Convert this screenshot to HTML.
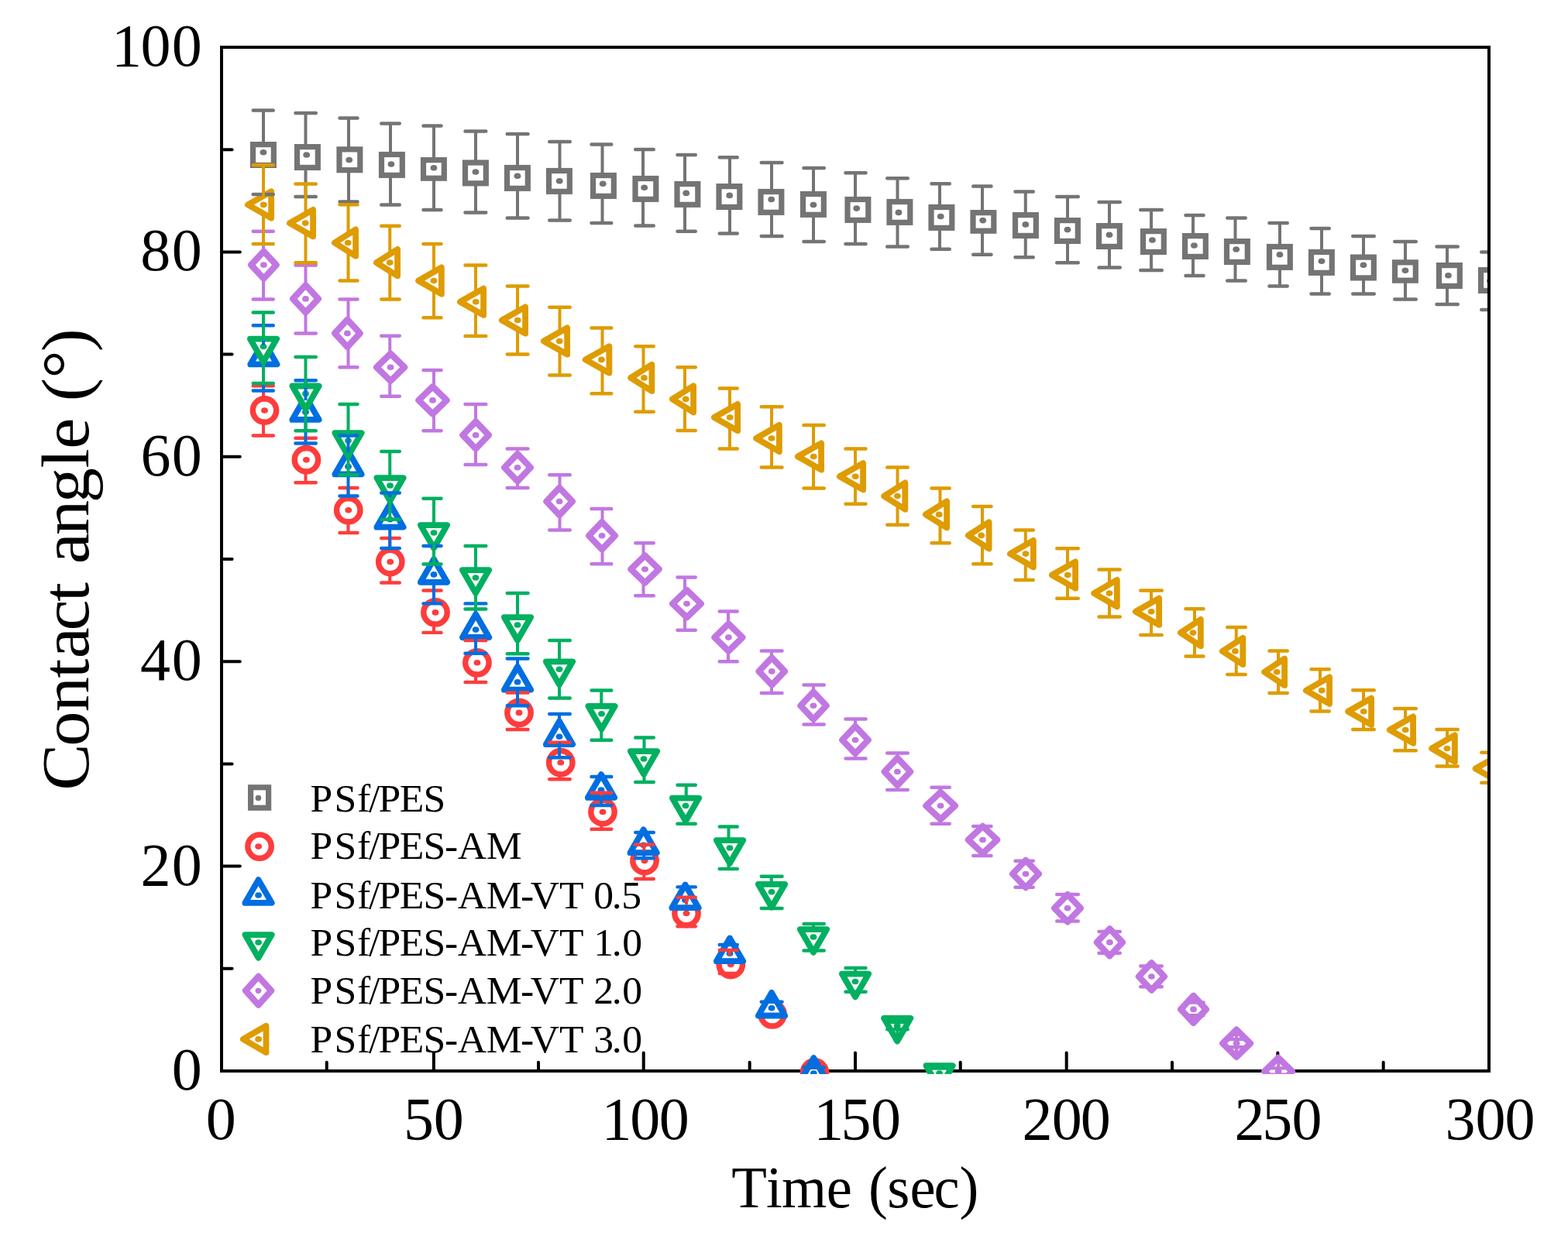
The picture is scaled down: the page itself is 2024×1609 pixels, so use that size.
<!DOCTYPE html>
<html lang="en">
<head>
<meta charset="utf-8">
<title>Contact angle vs time</title>
<style>
html,body{margin:0;padding:0;background:#fff;}
body{width:2024px;height:1609px;overflow:hidden;}
svg{display:block;}
text{font-family:"Liberation Serif","Times New Roman",Times,serif;fill:#000;white-space:pre;}
</style>
</head>
<body>
<svg width="2024" height="1609" viewBox="0 0 2024 1609">
<rect width="2024" height="1609" fill="#fff"/>
<defs><clipPath id="clip"><rect x="284" y="59" width="1636" height="1328"/></clipPath></defs>
<g id="axes" stroke="#000" stroke-width="4" fill="none">
<rect x="286.0" y="61.0" width="1636.0" height="1322.0"/>
<path d="M421.73 1383.0V1371.8M559.87 1383.0V1359.4M695 1383.0V1371.8M830.73 1383.0V1359.4M967.67 1383.0V1371.8M1104 1383.0V1359.4M1239.73 1383.0V1371.8M1376.67 1383.0V1359.4M1513 1383.0V1371.8M1649.33 1383.0V1359.4M1785.67 1383.0V1371.8M286.0 1250.8H299.6M286.0 1118.6H309.8M286.0 986.4H299.6M286.0 854.2H309.8M286.0 722H299.6M286.0 589.8H309.8M286.0 457.6H299.6M286.0 325.4H309.8M286.0 193.2H299.6" stroke-linecap="round"/>
</g>
<g id="data" clip-path="url(#clip)">
<g id="m-gray" fill="#fff" stroke="#747474" stroke-width="7.2" stroke-linejoin="miter"><rect x="326.5" y="186.6" width="26.8" height="26.8"/><ellipse cx="339.95" cy="196.75" rx="4.4" ry="3.8" fill="#747474" stroke="none"/><rect x="383.5" y="189.6" width="26.8" height="26.8"/><ellipse cx="395.7" cy="200" rx="4.4" ry="3.8" fill="#747474" stroke="none"/><rect x="438" y="192.85" width="26.8" height="26.8"/><ellipse cx="450.7" cy="206.5" rx="4.4" ry="3.8" fill="#747474" stroke="none"/><rect x="492.5" y="199.5" width="26.8" height="26.8"/><ellipse cx="504.95" cy="212" rx="4.4" ry="3.8" fill="#747474" stroke="none"/><rect x="546.5" y="206.62" width="26.8" height="23.55"/><ellipse cx="559.95" cy="216.75" rx="4.4" ry="3.8" fill="#747474" stroke="none"/><rect x="600.5" y="210" width="26.8" height="26.8"/><ellipse cx="613.95" cy="222" rx="4.4" ry="3.8" fill="#747474" stroke="none"/><rect x="654.5" y="216.5" width="26.8" height="26.8"/><ellipse cx="667.95" cy="227.25" rx="4.4" ry="3.8" fill="#747474" stroke="none"/><rect x="708.5" y="220.5" width="26.8" height="26.8"/><ellipse cx="722.2" cy="233.75" rx="4.4" ry="3.8" fill="#747474" stroke="none"/><rect x="765.5" y="226.5" width="26.8" height="26.8"/><ellipse cx="778.2" cy="237.25" rx="4.4" ry="3.8" fill="#747474" stroke="none"/><rect x="820" y="230.5" width="26.8" height="26.8"/><ellipse cx="831.7" cy="242.25" rx="4.4" ry="3.8" fill="#747474" stroke="none"/><rect x="874" y="237.5" width="26.8" height="26.8"/><ellipse cx="885.7" cy="249.38" rx="4.4" ry="3.8" fill="#747474" stroke="none"/><rect x="928" y="240.6" width="26.8" height="26.8"/><ellipse cx="941.7" cy="252.38" rx="4.4" ry="3.8" fill="#747474" stroke="none"/><rect x="982" y="247.5" width="26.8" height="26.8"/><ellipse cx="995.7" cy="257.5" rx="4.4" ry="3.8" fill="#747474" stroke="none"/><rect x="1036.5" y="250.5" width="26.8" height="26.8"/><ellipse cx="1049.95" cy="264.5" rx="4.4" ry="3.8" fill="#747474" stroke="none"/><rect x="1094" y="257.5" width="26.8" height="26.8"/><ellipse cx="1105.7" cy="269.12" rx="4.4" ry="3.8" fill="#747474" stroke="none"/><rect x="1148" y="260.5" width="26.8" height="26.8"/><ellipse cx="1159.95" cy="274.38" rx="4.4" ry="3.8" fill="#747474" stroke="none"/><rect x="1202" y="267.5" width="26.8" height="26.8"/><ellipse cx="1214.2" cy="279.5" rx="4.4" ry="3.8" fill="#747474" stroke="none"/><rect x="1256" y="274.62" width="26.8" height="23.55"/><ellipse cx="1268.7" cy="284.62" rx="4.4" ry="3.8" fill="#747474" stroke="none"/><rect x="1310.5" y="277.6" width="26.8" height="26.8"/><ellipse cx="1323.83" cy="289.88" rx="4.4" ry="3.8" fill="#747474" stroke="none"/><rect x="1364.5" y="284.6" width="26.8" height="26.8"/><ellipse cx="1377.95" cy="296.62" rx="4.4" ry="3.8" fill="#747474" stroke="none"/><rect x="1418.5" y="291.6" width="26.8" height="26.8"/><ellipse cx="1431.95" cy="303.25" rx="4.4" ry="3.8" fill="#747474" stroke="none"/><rect x="1475.5" y="298.6" width="26.8" height="26.8"/><ellipse cx="1487.45" cy="310" rx="4.4" ry="3.8" fill="#747474" stroke="none"/><rect x="1529.5" y="304.6" width="26.8" height="26.8"/><ellipse cx="1541.45" cy="317" rx="4.4" ry="3.8" fill="#747474" stroke="none"/><rect x="1583.5" y="311.6" width="26.8" height="26.8"/><ellipse cx="1595.7" cy="322" rx="4.4" ry="3.8" fill="#747474" stroke="none"/><rect x="1638.5" y="318.5" width="26.8" height="26.8"/><ellipse cx="1651.95" cy="328.75" rx="4.4" ry="3.8" fill="#747474" stroke="none"/><rect x="1692.5" y="325.5" width="26.8" height="26.8"/><ellipse cx="1705.95" cy="337.25" rx="4.4" ry="3.8" fill="#747474" stroke="none"/><rect x="1746.5" y="332.1" width="26.8" height="26.8"/><ellipse cx="1759.95" cy="342.25" rx="4.4" ry="3.8" fill="#747474" stroke="none"/><rect x="1800.5" y="338.85" width="26.8" height="23.3"/><ellipse cx="1813.95" cy="349.25" rx="4.4" ry="3.8" fill="#747474" stroke="none"/><rect x="1857.5" y="342.6" width="26.8" height="26.8"/><ellipse cx="1869.45" cy="355.75" rx="4.4" ry="3.8" fill="#747474" stroke="none"/><rect x="1911.6" y="348.6" width="26.8" height="26.8"/><ellipse cx="1923.5" cy="362.75" rx="4.4" ry="3.8" fill="#747474" stroke="none"/></g>
<g id="m-red" fill="#fff" stroke="#FF3C3C" stroke-width="7.4" stroke-linejoin="round"><circle cx="341.5" cy="530" r="15.2"/><ellipse cx="341.5" cy="530" rx="4.4" ry="3.8" fill="#FF3C3C" stroke="none"/><circle cx="395.4" cy="593.75" r="15.2"/><ellipse cx="395.4" cy="593.75" rx="4.4" ry="3.8" fill="#FF3C3C" stroke="none"/><circle cx="449.75" cy="658.75" r="15.2"/><ellipse cx="449.75" cy="658.75" rx="4.4" ry="3.8" fill="#FF3C3C" stroke="none"/><circle cx="503.75" cy="725.5" r="15.2"/><ellipse cx="503.75" cy="725.5" rx="4.4" ry="3.8" fill="#FF3C3C" stroke="none"/><circle cx="562" cy="790.9" r="15.2"/><ellipse cx="562" cy="790.9" rx="4.4" ry="3.8" fill="#FF3C3C" stroke="none"/><circle cx="615.9" cy="855.8" r="15.2"/><ellipse cx="615.9" cy="855.8" rx="4.4" ry="3.8" fill="#FF3C3C" stroke="none"/><circle cx="670" cy="920.4" r="15.2"/><ellipse cx="670" cy="920.4" rx="4.4" ry="3.8" fill="#FF3C3C" stroke="none"/><circle cx="723.75" cy="984.75" r="15.2"/><ellipse cx="723.75" cy="984.75" rx="4.4" ry="3.8" fill="#FF3C3C" stroke="none"/><circle cx="778" cy="1048.5" r="15.2"/><ellipse cx="778" cy="1048.5" rx="4.4" ry="3.8" fill="#FF3C3C" stroke="none"/><circle cx="832" cy="1111.5" r="15.2"/><ellipse cx="832" cy="1111.5" rx="4.4" ry="3.8" fill="#FF3C3C" stroke="none"/><circle cx="886" cy="1179.5" r="15.2"/><ellipse cx="886" cy="1179.5" rx="4.4" ry="3.8" fill="#FF3C3C" stroke="none"/><circle cx="943.25" cy="1245.5" r="15.2"/><ellipse cx="943.25" cy="1245.5" rx="4.4" ry="3.8" fill="#FF3C3C" stroke="none"/><circle cx="997" cy="1309.85" r="15.2"/><ellipse cx="997" cy="1309.85" rx="4.4" ry="3.8" fill="#FF3C3C" stroke="none"/><circle cx="1051.5" cy="1385" r="15.2"/><ellipse cx="1051.5" cy="1385" rx="4.4" ry="3.8" fill="#FF3C3C" stroke="none"/></g>
<g id="m-blue" fill="#fff" stroke="#006EE1" stroke-width="7.8" stroke-linejoin="round"><polygon points="340.4,440.7 357.55,470.4 323.25,470.4"/><ellipse cx="340.4" cy="460.5" rx="4.4" ry="3.8" fill="#006EE1" stroke="none"/><polygon points="394.5,512.2 411.65,541.9 377.35,541.9"/><ellipse cx="394.5" cy="532" rx="4.4" ry="3.8" fill="#006EE1" stroke="none"/><polygon points="449.5,582.7 466.65,612.4 432.35,612.4"/><ellipse cx="449.5" cy="602.5" rx="4.4" ry="3.8" fill="#006EE1" stroke="none"/><polygon points="503.5,650.95 520.65,680.65 486.35,680.65"/><ellipse cx="503.5" cy="670.75" rx="4.4" ry="3.8" fill="#006EE1" stroke="none"/><polygon points="560,722.1 577.15,751.8 542.85,751.8"/><ellipse cx="560" cy="741.9" rx="4.4" ry="3.8" fill="#006EE1" stroke="none"/><polygon points="614.1,793.3 631.25,823 596.95,823"/><ellipse cx="614.1" cy="813.1" rx="4.4" ry="3.8" fill="#006EE1" stroke="none"/><polygon points="668,860.95 685.15,890.65 650.85,890.65"/><ellipse cx="668" cy="880.75" rx="4.4" ry="3.8" fill="#006EE1" stroke="none"/><polygon points="722,931.45 739.15,961.15 704.85,961.15"/><ellipse cx="722" cy="951.25" rx="4.4" ry="3.8" fill="#006EE1" stroke="none"/><polygon points="776,1000.2 793.15,1029.9 758.85,1029.9"/><ellipse cx="776" cy="1020" rx="4.4" ry="3.8" fill="#006EE1" stroke="none"/><polygon points="830.6,1071.45 847.75,1101.15 813.45,1101.15"/><ellipse cx="830.6" cy="1091.25" rx="4.4" ry="3.8" fill="#006EE1" stroke="none"/><polygon points="884.5,1142.5 901.65,1172.2 867.35,1172.2"/><ellipse cx="884.5" cy="1162.3" rx="4.4" ry="3.8" fill="#006EE1" stroke="none"/><polygon points="942,1211.5 959.15,1241.2 924.85,1241.2"/><ellipse cx="942" cy="1231.3" rx="4.4" ry="3.8" fill="#006EE1" stroke="none"/><polygon points="996,1281.9 1013.15,1311.6 978.85,1311.6"/><ellipse cx="996" cy="1301.7" rx="4.4" ry="3.8" fill="#006EE1" stroke="none"/><polygon points="1050.3,1366.2 1067.45,1395.9 1033.15,1395.9"/><ellipse cx="1050.3" cy="1386" rx="4.4" ry="3.8" fill="#006EE1" stroke="none"/></g>
<g id="m-green" fill="#fff" stroke="#00B060" stroke-width="7.8" stroke-linejoin="round"><polygon points="340,467.3 357.15,437.6 322.85,437.6"/><ellipse cx="340" cy="447.5" rx="4.4" ry="3.8" fill="#00B060" stroke="none"/><polygon points="394.5,528.2 411.65,498.5 377.35,498.5"/><ellipse cx="394.5" cy="508.4" rx="4.4" ry="3.8" fill="#00B060" stroke="none"/><polygon points="449.5,588.8 466.65,559.1 432.35,559.1"/><ellipse cx="449.5" cy="569" rx="4.4" ry="3.8" fill="#00B060" stroke="none"/><polygon points="503.5,646.8 520.65,617.1 486.35,617.1"/><ellipse cx="503.5" cy="627" rx="4.4" ry="3.8" fill="#00B060" stroke="none"/><polygon points="560,707.8 577.15,678.1 542.85,678.1"/><ellipse cx="560" cy="688" rx="4.4" ry="3.8" fill="#00B060" stroke="none"/><polygon points="614,765.8 631.15,736.1 596.85,736.1"/><ellipse cx="614" cy="746" rx="4.4" ry="3.8" fill="#00B060" stroke="none"/><polygon points="668,826.8 685.15,797.1 650.85,797.1"/><ellipse cx="668" cy="807" rx="4.4" ry="3.8" fill="#00B060" stroke="none"/><polygon points="722,884.1 739.15,854.4 704.85,854.4"/><ellipse cx="722" cy="864.3" rx="4.4" ry="3.8" fill="#00B060" stroke="none"/><polygon points="776.5,941.6 793.65,911.9 759.35,911.9"/><ellipse cx="776.5" cy="921.8" rx="4.4" ry="3.8" fill="#00B060" stroke="none"/><polygon points="831,999.8 848.15,970.1 813.85,970.1"/><ellipse cx="831" cy="980" rx="4.4" ry="3.8" fill="#00B060" stroke="none"/><polygon points="885,1060.3 902.15,1030.6 867.85,1030.6"/><ellipse cx="885" cy="1040.5" rx="4.4" ry="3.8" fill="#00B060" stroke="none"/><polygon points="942,1114.8 959.15,1085.1 924.85,1085.1"/><ellipse cx="942" cy="1095" rx="4.4" ry="3.8" fill="#00B060" stroke="none"/><polygon points="996,1171.55 1013.15,1141.85 978.85,1141.85"/><ellipse cx="996" cy="1151.75" rx="4.4" ry="3.8" fill="#00B060" stroke="none"/><polygon points="1050,1229.8 1067.15,1200.1 1032.85,1200.1"/><ellipse cx="1050" cy="1210" rx="4.4" ry="3.8" fill="#00B060" stroke="none"/><polygon points="1104,1287.3 1121.15,1257.6 1086.85,1257.6"/><ellipse cx="1104" cy="1267.5" rx="4.4" ry="3.8" fill="#00B060" stroke="none"/><polygon points="1158.2,1344.6 1175.35,1314.9 1141.05,1314.9"/><ellipse cx="1158.2" cy="1324.8" rx="4.4" ry="3.8" fill="#00B060" stroke="none"/><polygon points="1212.6,1405.8 1229.75,1376.1 1195.45,1376.1"/><ellipse cx="1212.6" cy="1386" rx="4.4" ry="3.8" fill="#00B060" stroke="none"/></g>
<g id="m-purple" fill="#fff" stroke="#C177E1" stroke-width="8.2" stroke-linejoin="round"><polygon points="340.4,324.5 356.67,342.1 340.4,359.7 324.12,342.1"/><ellipse cx="340.4" cy="342.1" rx="4.4" ry="3.8" fill="#C177E1" stroke="none"/><polygon points="394.5,368.3 410.9,385.9 394.5,403.5 378.1,385.9"/><ellipse cx="394.5" cy="385.9" rx="4.4" ry="3.8" fill="#C177E1" stroke="none"/><polygon points="448.4,412.8 464.67,430.4 448.4,448 432.12,430.4"/><ellipse cx="448.4" cy="430.4" rx="4.4" ry="3.8" fill="#C177E1" stroke="none"/><polygon points="504.1,456.7 522.12,474.3 504.1,491.9 486.08,474.3"/><ellipse cx="504.1" cy="474.3" rx="4.4" ry="3.8" fill="#C177E1" stroke="none"/><polygon points="558.5,499.3 576.65,516.9 558.5,534.5 540.35,516.9"/><ellipse cx="558.5" cy="516.9" rx="4.4" ry="3.8" fill="#C177E1" stroke="none"/><polygon points="614.1,544.3 630.88,561.9 614.1,579.5 597.33,561.9"/><ellipse cx="614.1" cy="561.9" rx="4.4" ry="3.8" fill="#C177E1" stroke="none"/><polygon points="668,586.15 684.9,603.75 668,621.35 651.1,603.75"/><ellipse cx="668" cy="603.75" rx="4.4" ry="3.8" fill="#C177E1" stroke="none"/><polygon points="722.1,629.9 738.88,647.5 722.1,665.1 705.33,647.5"/><ellipse cx="722.1" cy="647.5" rx="4.4" ry="3.8" fill="#C177E1" stroke="none"/><polygon points="777,674.15 793.9,691.75 777,709.35 760.1,691.75"/><ellipse cx="777" cy="691.75" rx="4.4" ry="3.8" fill="#C177E1" stroke="none"/><polygon points="832.5,717.4 850.65,735 832.5,752.6 814.35,735"/><ellipse cx="832.5" cy="735" rx="4.4" ry="3.8" fill="#C177E1" stroke="none"/><polygon points="886.5,762 904.9,779.6 886.5,797.2 868.1,779.6"/><ellipse cx="886.5" cy="779.6" rx="4.4" ry="3.8" fill="#C177E1" stroke="none"/><polygon points="940.4,805.5 958.42,823.1 940.4,840.7 922.38,823.1"/><ellipse cx="940.4" cy="823.1" rx="4.4" ry="3.8" fill="#C177E1" stroke="none"/><polygon points="996.25,849.3 1012.9,866.9 996.25,884.5 979.6,866.9"/><ellipse cx="996.25" cy="866.9" rx="4.4" ry="3.8" fill="#C177E1" stroke="none"/><polygon points="1050,893.65 1066.65,911.25 1050,928.85 1033.35,911.25"/><ellipse cx="1050" cy="911.25" rx="4.4" ry="3.8" fill="#C177E1" stroke="none"/><polygon points="1104,937.9 1120.78,955.5 1104,973.1 1087.22,955.5"/><ellipse cx="1104" cy="955.5" rx="4.4" ry="3.8" fill="#C177E1" stroke="none"/><polygon points="1158.4,978.9 1175.18,996.5 1158.4,1014.1 1141.62,996.5"/><ellipse cx="1158.4" cy="996.5" rx="4.4" ry="3.8" fill="#C177E1" stroke="none"/><polygon points="1214.1,1022.9 1232.88,1040.5 1214.1,1058.1 1195.32,1040.5"/><ellipse cx="1214.1" cy="1040.5" rx="4.4" ry="3.8" fill="#C177E1" stroke="none"/><polygon points="1268.5,1066.9 1287.15,1084.5 1268.5,1102.1 1249.85,1084.5"/><ellipse cx="1268.5" cy="1084.5" rx="4.4" ry="3.8" fill="#C177E1" stroke="none"/><polygon points="1324,1110.9 1340.9,1128.5 1324,1146.1 1307.1,1128.5"/><ellipse cx="1324" cy="1128.5" rx="4.4" ry="3.8" fill="#C177E1" stroke="none"/><polygon points="1378,1155.15 1394.9,1172.75 1378,1190.35 1361.1,1172.75"/><ellipse cx="1378" cy="1172.75" rx="4.4" ry="3.8" fill="#C177E1" stroke="none"/><polygon points="1432.4,1199.3 1448.93,1216.9 1432.4,1234.5 1415.88,1216.9"/><ellipse cx="1432.4" cy="1216.9" rx="4.4" ry="3.8" fill="#C177E1" stroke="none"/><polygon points="1486.4,1243.4 1502.93,1261 1486.4,1278.6 1469.88,1261"/><ellipse cx="1486.4" cy="1261" rx="4.4" ry="3.8" fill="#C177E1" stroke="none"/><polygon points="1540.5,1285.8 1556.85,1303.4 1540.5,1321 1524.15,1303.4"/><ellipse cx="1540.5" cy="1303.4" rx="4.4" ry="3.8" fill="#C177E1" stroke="none"/><polygon points="1596.1,1329.7 1614,1347.3 1596.1,1364.9 1578.2,1347.3"/><ellipse cx="1596.1" cy="1347.3" rx="4.4" ry="3.8" fill="#C177E1" stroke="none"/><polygon points="1650.1,1365.9 1667.95,1383.5 1650.1,1401.1 1632.25,1383.5"/><ellipse cx="1650.1" cy="1383.5" rx="4.4" ry="3.8" fill="#C177E1" stroke="none"/></g>
<g id="m-orange" fill="#fff" stroke="#DE9C00" stroke-width="7.8" stroke-linejoin="round"><polygon points="319.95,264.4 350.15,247.25 350.15,281.55"/><ellipse cx="340.25" cy="264.4" rx="4.4" ry="3.8" fill="#DE9C00" stroke="none"/><polygon points="373.9,288.1 404.1,270.95 404.1,305.25"/><ellipse cx="394.2" cy="288.1" rx="4.4" ry="3.8" fill="#DE9C00" stroke="none"/><polygon points="431.9,313.5 459.1,296.35 459.1,330.65"/><ellipse cx="449.2" cy="313.5" rx="4.4" ry="3.8" fill="#DE9C00" stroke="none"/><polygon points="485.9,339.1 513.1,321.95 513.1,356.25"/><ellipse cx="503.2" cy="339.1" rx="4.4" ry="3.8" fill="#DE9C00" stroke="none"/><polygon points="540.15,362.5 569.85,345.35 569.85,379.65"/><ellipse cx="559.95" cy="362.5" rx="4.4" ry="3.8" fill="#DE9C00" stroke="none"/><polygon points="593.9,389.75 624.1,372.6 624.1,406.9"/><ellipse cx="614.2" cy="389.75" rx="4.4" ry="3.8" fill="#DE9C00" stroke="none"/><polygon points="647.9,413.5 678.1,396.35 678.1,430.65"/><ellipse cx="668.2" cy="413.5" rx="4.4" ry="3.8" fill="#DE9C00" stroke="none"/><polygon points="701.9,440.5 732.1,423.35 732.1,457.65"/><ellipse cx="722.2" cy="440.5" rx="4.4" ry="3.8" fill="#DE9C00" stroke="none"/><polygon points="755.65,464.4 786.35,447.25 786.35,481.55"/><ellipse cx="776.45" cy="464.4" rx="4.4" ry="3.8" fill="#DE9C00" stroke="none"/><polygon points="814.15,487.9 841.35,470.75 841.35,505.05"/><ellipse cx="831.45" cy="487.9" rx="4.4" ry="3.8" fill="#DE9C00" stroke="none"/><polygon points="867.9,515.4 895.1,498.25 895.1,532.55"/><ellipse cx="885.2" cy="515.4" rx="4.4" ry="3.8" fill="#DE9C00" stroke="none"/><polygon points="921.9,539 952.1,521.85 952.1,556.15"/><ellipse cx="942.2" cy="539" rx="4.4" ry="3.8" fill="#DE9C00" stroke="none"/><polygon points="976.15,566 1005.85,548.85 1005.85,583.15"/><ellipse cx="995.95" cy="566" rx="4.4" ry="3.8" fill="#DE9C00" stroke="none"/><polygon points="1029.9,589.5 1060.1,572.35 1060.1,606.65"/><ellipse cx="1050.2" cy="589.5" rx="4.4" ry="3.8" fill="#DE9C00" stroke="none"/><polygon points="1083.9,615.25 1114.1,598.1 1114.1,632.4"/><ellipse cx="1104.2" cy="615.25" rx="4.4" ry="3.8" fill="#DE9C00" stroke="none"/><polygon points="1141.15,640.6 1168.35,623.45 1168.35,657.75"/><ellipse cx="1158.45" cy="640.6" rx="4.4" ry="3.8" fill="#DE9C00" stroke="none"/><polygon points="1194.9,664.4 1222.1,647.25 1222.1,681.55"/><ellipse cx="1212.2" cy="664.4" rx="4.4" ry="3.8" fill="#DE9C00" stroke="none"/><polygon points="1249.9,691.4 1276.6,674.25 1276.6,708.55"/><ellipse cx="1266.7" cy="691.4" rx="4.4" ry="3.8" fill="#DE9C00" stroke="none"/><polygon points="1303.9,715.1 1333.85,697.95 1333.85,732.25"/><ellipse cx="1323.95" cy="715.1" rx="4.4" ry="3.8" fill="#DE9C00" stroke="none"/><polygon points="1357.9,742.5 1388.1,725.35 1388.1,759.65"/><ellipse cx="1378.2" cy="742.5" rx="4.4" ry="3.8" fill="#DE9C00" stroke="none"/><polygon points="1412.15,766.1 1441.85,748.95 1441.85,783.25"/><ellipse cx="1431.95" cy="766.1" rx="4.4" ry="3.8" fill="#DE9C00" stroke="none"/><polygon points="1465.9,789.75 1496.1,772.6 1496.1,806.9"/><ellipse cx="1486.2" cy="789.75" rx="4.4" ry="3.8" fill="#DE9C00" stroke="none"/><polygon points="1523.9,817.1 1549.85,799.95 1549.85,834.25"/><ellipse cx="1539.95" cy="817.1" rx="4.4" ry="3.8" fill="#DE9C00" stroke="none"/><polygon points="1577.9,840.9 1604.35,823.75 1604.35,858.05"/><ellipse cx="1594.45" cy="840.9" rx="4.4" ry="3.8" fill="#DE9C00" stroke="none"/><polygon points="1632.15,867.75 1658.1,850.6 1658.1,884.9"/><ellipse cx="1648.2" cy="867.75" rx="4.4" ry="3.8" fill="#DE9C00" stroke="none"/><polygon points="1685.9,891.6 1716.1,874.45 1716.1,908.75"/><ellipse cx="1706.2" cy="891.6" rx="4.4" ry="3.8" fill="#DE9C00" stroke="none"/><polygon points="1740.15,918.75 1770.1,901.6 1770.1,935.9"/><ellipse cx="1760.2" cy="918.75" rx="4.4" ry="3.8" fill="#DE9C00" stroke="none"/><polygon points="1793.9,942.5 1824.1,925.35 1824.1,959.65"/><ellipse cx="1814.2" cy="942.5" rx="4.4" ry="3.8" fill="#DE9C00" stroke="none"/><polygon points="1848.15,966.5 1877.85,949.35 1877.85,983.65"/><ellipse cx="1867.95" cy="966.5" rx="4.4" ry="3.8" fill="#DE9C00" stroke="none"/><polygon points="1904.65,992.5 1934.85,975.35 1934.85,1009.65"/><ellipse cx="1924.95" cy="992.5" rx="4.4" ry="3.8" fill="#DE9C00" stroke="none"/></g>
<g id="e-gray" fill="none" stroke="#747474" stroke-width="4.4" stroke-linecap="round"><path d="M340 142.5V189.6M340 210.4V251" stroke-width="4" stroke-linecap="butt"/><path d="M326.7 142.5H352.8M326.7 251H352.8"/><path d="M394.5 146V192.6M394.5 213.4V254" stroke-width="4" stroke-linecap="butt"/><path d="M381.45 146H407.8M381.45 254H407.8"/><path d="M450 152.5V195.85M450 216.65V260.5" stroke-width="4" stroke-linecap="butt"/><path d="M438.45 152.5H461.55M438.45 260.5H461.55"/><path d="M504 159.5V202.5M504 223.3V264.5" stroke-width="4" stroke-linecap="butt"/><path d="M492.2 159.5H515.8M492.2 264.5H515.8"/><path d="M560 162.5V208M560 228.8V271" stroke-width="4" stroke-linecap="butt"/><path d="M546.45 162.5H569.55M546.45 271H569.55"/><path d="M614 169.5V213M614 233.8V274.5" stroke-width="4" stroke-linecap="butt"/><path d="M600.45 169.5H627.3M600.45 274.5H627.3"/><path d="M668 173V219.5M668 240.3V281.5" stroke-width="4" stroke-linecap="butt"/><path d="M654.7 173H681.55M654.7 281.5H681.55"/><path d="M722.5 183V223.5M722.5 244.3V284.5" stroke-width="4" stroke-linecap="butt"/><path d="M709.2 183H735.8M709.2 284.5H735.8"/><path d="M777.5 186.5V229.5M777.5 250.3V288" stroke-width="4" stroke-linecap="butt"/><path d="M763.45 186.5H789.3M763.45 288H789.3"/><path d="M830 193V233.5M830 254.3V291.5" stroke-width="4" stroke-linecap="butt"/><path d="M820.2 193H843.8M820.2 291.5H843.8"/><path d="M884 200V240.5M884 261.3V298.75" stroke-width="4" stroke-linecap="butt"/><path d="M874.45 200H897.8M874.45 298.75H897.8"/><path d="M942 203.25V243.6M942 264.4V301.5" stroke-width="4" stroke-linecap="butt"/><path d="M928.7 203.25H951.8M928.7 301.5H951.8"/><path d="M996 210V250.5M996 271.3V305" stroke-width="4" stroke-linecap="butt"/><path d="M982.7 210H1009.55M982.7 305H1009.55"/><path d="M1050 217V253.5M1050 274.3V312" stroke-width="4" stroke-linecap="butt"/><path d="M1037.45 217H1063.8M1037.45 312H1063.8"/><path d="M1104 223.25V260.5M1104 281.3V315" stroke-width="4" stroke-linecap="butt"/><path d="M1091.45 223.25H1117.55M1091.45 315H1117.55"/><path d="M1158.5 230.25V263.5M1158.5 284.3V318.5" stroke-width="4" stroke-linecap="butt"/><path d="M1145.2 230.25H1171.8M1145.2 318.5H1171.8"/><path d="M1213 237.25V270.5M1213 291.3V321.75" stroke-width="4" stroke-linecap="butt"/><path d="M1202.45 237.25H1225.8M1202.45 321.75H1225.8"/><path d="M1268 240.5V276M1268 296.8V328.75" stroke-width="4" stroke-linecap="butt"/><path d="M1256.2 240.5H1279.55M1256.2 328.75H1279.55"/><path d="M1323.75 247.5V280.6M1323.75 301.4V332.25" stroke-width="4" stroke-linecap="butt"/><path d="M1310.45 247.5H1333.8M1310.45 332.25H1333.8"/><path d="M1378 254V287.6M1378 308.4V339.25" stroke-width="4" stroke-linecap="butt"/><path d="M1364.2 254H1391.8M1364.2 339.25H1391.8"/><path d="M1432 261V294.6M1432 315.4V345.5" stroke-width="4" stroke-linecap="butt"/><path d="M1418.45 261H1445.8M1418.45 345.5H1445.8"/><path d="M1486 271V301.6M1486 322.4V349" stroke-width="4" stroke-linecap="butt"/><path d="M1472.2 271H1499.8M1472.2 349H1499.8"/><path d="M1540 278V307.6M1540 328.4V356" stroke-width="4" stroke-linecap="butt"/><path d="M1530.45 278H1553.55M1530.45 356H1553.55"/><path d="M1594.5 281.5V314.6M1594.5 335.4V362.5" stroke-width="4" stroke-linecap="butt"/><path d="M1584.2 281.5H1607.8M1584.2 362.5H1607.8"/><path d="M1652 288V321.5M1652 342.3V369.5" stroke-width="4" stroke-linecap="butt"/><path d="M1638.45 288H1661.8M1638.45 369.5H1661.8"/><path d="M1706 295V328.5M1706 349.3V379.5" stroke-width="4" stroke-linecap="butt"/><path d="M1692.45 295H1715.8M1692.45 379.5H1715.8"/><path d="M1760 305V335.1M1760 355.9V379.5" stroke-width="4" stroke-linecap="butt"/><path d="M1746.2 305H1773.8M1746.2 379.5H1773.8"/><path d="M1814 312V340.1M1814 360.9V386.5" stroke-width="4" stroke-linecap="butt"/><path d="M1800.2 312H1827.8M1800.2 386.5H1827.8"/><path d="M1868 318.5V345.6M1868 366.4V393" stroke-width="4" stroke-linecap="butt"/><path d="M1854.45 318.5H1881.8M1854.45 393H1881.8"/><path d="M1922 325.5V351.6M1922 372.4V400" stroke-width="4" stroke-linecap="butt"/><path d="M1912.2 325.5H1935.8M1912.2 400H1935.8"/></g>
<g id="e-red" fill="none" stroke="#FF3C3C" stroke-width="4.4" stroke-linecap="round"><path d="M340 498.25V518.6M340 541.4V562.5" stroke-width="4" stroke-linecap="butt"/><path d="M326.7 498.25H352.8M326.7 562.5H352.8"/><path d="M394.5 565.75V582.35M394.5 605.15V623.25" stroke-width="4" stroke-linecap="butt"/><path d="M381.45 565.75H407.8M381.45 623.25H407.8"/><path d="M449.5 630V647.35M449.5 670.15V688" stroke-width="4" stroke-linecap="butt"/><path d="M438.45 630H461.55M438.45 688H461.55"/><path d="M503.25 695V714.1M503.25 736.9V752.5" stroke-width="4" stroke-linecap="butt"/><path d="M492.2 695H515.8M492.2 752.5H515.8"/><path d="M560 762.5V779.5M560 802.3V816.9" stroke-width="4" stroke-linecap="butt"/><path d="M546.45 762.5H569.55M546.45 816.9H569.55"/><path d="M614 827.1V844.4M614 867.2V881" stroke-width="4" stroke-linecap="butt"/><path d="M600.45 827.1H627.3M600.45 881H627.3"/><path d="M668 894.5V909M668 931.8V942" stroke-width="4" stroke-linecap="butt"/><path d="M654.7 894.5H681.55M654.7 942H681.55"/><path d="M722 958.75V973.35M722 996.15V1006.25" stroke-width="4" stroke-linecap="butt"/><path d="M709.2 958.75H735.8M709.2 1006.25H735.8"/><path d="M776.25 1023.75V1037.1M776.25 1059.9V1070.75" stroke-width="4" stroke-linecap="butt"/><path d="M763.45 1023.75H789.3M763.45 1070.75H789.3"/><path d="M831.25 1090.75V1100.1M831.25 1122.9V1135" stroke-width="4" stroke-linecap="butt"/><path d="M820.2 1090.75H843.8M820.2 1135H843.8"/><path d="M886 1158.75V1168.1M886 1190.9V1196.25" stroke-width="4" stroke-linecap="butt"/><path d="M874.45 1158.75H897.8M874.45 1196.25H897.8"/><path d="M942 1226.9V1234.1" stroke-width="4" stroke-linecap="butt"/><path d="M928.7 1226.9H951.8M928.7 1257H951.8"/><path d="M1037.45 1378.5H1063.8M1037.45 1394H1063.8"/></g>
<g id="e-blue" fill="none" stroke="#006EE1" stroke-width="4.4" stroke-linecap="round"><path d="M340 420.25V445.5M340 467.7V504.5" stroke-width="4" stroke-linecap="butt"/><path d="M326.7 420.25H352.8M326.7 504.5H352.8"/><path d="M394.5 491.25V517M394.5 539.2V572.5" stroke-width="4" stroke-linecap="butt"/><path d="M381.45 491.25H407.8M381.45 572.5H407.8"/><path d="M449.5 562.5V587.5M449.5 609.7V640.5" stroke-width="4" stroke-linecap="butt"/><path d="M438.45 562.5H461.55M438.45 640.5H461.55"/><path d="M503.25 636.5V655.75M503.25 677.95V708" stroke-width="4" stroke-linecap="butt"/><path d="M492.2 636.5H515.8M492.2 708H515.8"/><path d="M560 705V726.9M560 749.1V779.4" stroke-width="4" stroke-linecap="butt"/><path d="M546.45 705H569.55M546.45 779.4H569.55"/><path d="M614 779.4V798.1M614 820.3V843.75" stroke-width="4" stroke-linecap="butt"/><path d="M600.45 779.4H627.3M600.45 843.75H627.3"/><path d="M668 850.5V865.75M668 887.95V911.25" stroke-width="4" stroke-linecap="butt"/><path d="M654.7 850.5H681.55M654.7 911.25H681.55"/><path d="M722 922V936.25M722 958.45V978.25" stroke-width="4" stroke-linecap="butt"/><path d="M709.2 922H735.8M709.2 978.25H735.8"/><path d="M776.25 1003V1005M776.25 1027.2V1040" stroke-width="4" stroke-linecap="butt"/><path d="M763.45 1003H789.3M763.45 1040H789.3"/><path d="M831.25 1075V1076.25M831.25 1098.45V1108.25" stroke-width="4" stroke-linecap="butt"/><path d="M820.2 1075H843.8M820.2 1108.25H843.8"/><path d="M886 1145.4V1147.3M886 1169.5V1173.5" stroke-width="4" stroke-linecap="butt"/><path d="M874.45 1145.4H897.8M874.45 1173.5H897.8"/><path d="M942 1220V1216.3M942 1238.5V1242" stroke-width="4" stroke-linecap="butt"/><path d="M928.7 1220H951.8M928.7 1242H951.8"/><path d="M995.75 1293.75V1286.7M995.75 1308.9V1310" stroke-width="4" stroke-linecap="butt"/><path d="M982.7 1293.75H1009.55M982.7 1310H1009.55"/><path d="M1050.3 1378.5V1371M1050.3 1393.2V1394" stroke-width="4" stroke-linecap="butt"/><path d="M1037.45 1378.5H1063.8M1037.45 1394H1063.8"/></g>
<g id="e-green" fill="none" stroke="#00B060" stroke-width="4.4" stroke-linecap="round"><path d="M340 403.5V439.9M340 462.5V495" stroke-width="4" stroke-linecap="butt"/><path d="M326.7 403.5H352.8M326.7 495H352.8"/><path d="M394.5 461V500.8M394.5 523.4V556.25" stroke-width="4" stroke-linecap="butt"/><path d="M381.45 461H407.8M381.45 556.25H407.8"/><path d="M449.5 522V561.4M449.5 584V613.25" stroke-width="4" stroke-linecap="butt"/><path d="M438.45 522H461.55M438.45 613.25H461.55"/><path d="M503.25 583V619.4M503.25 642V670.75" stroke-width="4" stroke-linecap="butt"/><path d="M492.2 583H515.8M492.2 670.75H515.8"/><path d="M560 643.75V680.4M560 703V728.5" stroke-width="4" stroke-linecap="butt"/><path d="M546.45 643.75H569.55M546.45 728.5H569.55"/><path d="M614 705V738.4M614 761V786.5" stroke-width="4" stroke-linecap="butt"/><path d="M600.45 705H627.3M600.45 786.5H627.3"/><path d="M668 766V799.4M668 822V844.25" stroke-width="4" stroke-linecap="butt"/><path d="M654.7 766H681.55M654.7 844.25H681.55"/><path d="M722 827V856.7M722 879.3V901.5" stroke-width="4" stroke-linecap="butt"/><path d="M709.2 827H735.8M709.2 901.5H735.8"/><path d="M776.25 891.5V914.2M776.25 936.8V955.75" stroke-width="4" stroke-linecap="butt"/><path d="M763.45 891.5H789.3M763.45 955.75H789.3"/><path d="M831.5 952.5V972.4M831.5 995V1010" stroke-width="4" stroke-linecap="butt"/><path d="M820.2 952.5H843.8M820.2 1010H843.8"/><path d="M885.75 1013.75V1032.9M885.75 1055.5V1063.75" stroke-width="4" stroke-linecap="butt"/><path d="M874.45 1013.75H897.8M874.45 1063.75H897.8"/><path d="M940.5 1067.5V1087.4M940.5 1110V1122" stroke-width="4" stroke-linecap="butt"/><path d="M928.7 1067.5H951.8M928.7 1122H951.8"/><path d="M995.75 1131.75V1144.15M995.75 1166.75V1173" stroke-width="4" stroke-linecap="butt"/><path d="M982.7 1131.75H1009.55M982.7 1173H1009.55"/><path d="M1050 1193V1202.4M1050 1225V1227.5" stroke-width="4" stroke-linecap="butt"/><path d="M1037.45 1193H1063.8M1037.45 1227.5H1063.8"/><path d="M1104 1250V1259.9M1104 1282.5V1280.75" stroke-width="4" stroke-linecap="butt"/><path d="M1091.45 1250H1117.55M1091.45 1280.75H1117.55"/><path d="M1158.5 1320V1317.2M1158.5 1339.8V1329.2" stroke-width="4" stroke-linecap="butt"/><path d="M1145.2 1320H1171.8M1145.2 1329.2H1171.8"/><path d="M1213 1379.5V1378.4M1213 1401V1394" stroke-width="4" stroke-linecap="butt"/><path d="M1202.45 1379.5H1225.8M1202.45 1394H1225.8"/></g>
<g id="e-purple" fill="none" stroke="#C177E1" stroke-width="4.4" stroke-linecap="round"><path d="M340 298.75V329.5M340 354.7V386.5" stroke-width="4" stroke-linecap="butt"/><path d="M326.7 298.75H352.8M326.7 386.5H352.8"/><path d="M394.5 342.5V373.3M394.5 398.5V430.5" stroke-width="4" stroke-linecap="butt"/><path d="M381.45 342.5H407.8M381.45 430.5H407.8"/><path d="M449.5 386.5V417.8M449.5 443V474.25" stroke-width="4" stroke-linecap="butt"/><path d="M438.45 386.5H461.55M438.45 474.25H461.55"/><path d="M503.25 433.75V461.7M503.25 486.9V511.75" stroke-width="4" stroke-linecap="butt"/><path d="M492.2 433.75H515.8M492.2 511.75H515.8"/><path d="M560 478V504.3M560 529.5V556.25" stroke-width="4" stroke-linecap="butt"/><path d="M546.45 478H569.55M546.45 556.25H569.55"/><path d="M614 522V549.3M614 574.5V600" stroke-width="4" stroke-linecap="butt"/><path d="M600.45 522H627.3M600.45 600H627.3"/><path d="M668 579.5V591.15M668 616.35V630" stroke-width="4" stroke-linecap="butt"/><path d="M654.7 579.5H681.55M654.7 630H681.55"/><path d="M722.5 613.25V634.9M722.5 660.1V684.5" stroke-width="4" stroke-linecap="butt"/><path d="M709.2 613.25H735.8M709.2 684.5H735.8"/><path d="M777.5 657V679.15M777.5 704.35V728.25" stroke-width="4" stroke-linecap="butt"/><path d="M763.45 657H789.3M763.45 728.25H789.3"/><path d="M830.5 701.25V722.4M830.5 747.6V769.25" stroke-width="4" stroke-linecap="butt"/><path d="M820.2 701.25H843.8M820.2 769.25H843.8"/><path d="M884 745.5V767M884 792.2V813.75" stroke-width="4" stroke-linecap="butt"/><path d="M874.45 745.5H897.8M874.45 813.75H897.8"/><path d="M940 789.5V810.5M940 835.7V854.25" stroke-width="4" stroke-linecap="butt"/><path d="M928.7 789.5H951.8M928.7 854.25H951.8"/><path d="M996 840.5V854.3M996 879.5V895" stroke-width="4" stroke-linecap="butt"/><path d="M982.7 840.5H1009.55M982.7 895H1009.55"/><path d="M1050 884.5V898.65M1050 923.85V935.5" stroke-width="4" stroke-linecap="butt"/><path d="M1037.45 884.5H1063.8M1037.45 935.5H1063.8"/><path d="M1104 928.5V942.9M1104 968.1V979.5" stroke-width="4" stroke-linecap="butt"/><path d="M1091.45 928.5H1117.55M1091.45 979.5H1117.55"/><path d="M1158.5 972.5V983.9M1158.5 1009.1V1020" stroke-width="4" stroke-linecap="butt"/><path d="M1145.2 972.5H1171.8M1145.2 1020H1171.8"/><path d="M1213 1016.75V1027.9M1213 1053.1V1063.75" stroke-width="4" stroke-linecap="butt"/><path d="M1202.45 1016.75H1225.8M1202.45 1063.75H1225.8"/><path d="M1267.5 1067V1071.9M1267.5 1097.1V1105" stroke-width="4" stroke-linecap="butt"/><path d="M1256.2 1067H1279.55M1256.2 1105H1279.55"/><path d="M1323 1111.75V1115.9M1323 1141.1V1145.75" stroke-width="4" stroke-linecap="butt"/><path d="M1310.45 1111.75H1333.8M1310.45 1145.75H1333.8"/><path d="M1377 1155V1160.15M1377 1185.35V1189.5" stroke-width="4" stroke-linecap="butt"/><path d="M1364.2 1155H1391.8M1364.2 1189.5H1391.8"/><path d="M1431 1203V1204.3M1431 1229.5V1230.75" stroke-width="4" stroke-linecap="butt"/><path d="M1418.45 1203H1445.8M1418.45 1230.75H1445.8"/><path d="M1486 1247.5V1248.4M1486 1273.6V1274.25" stroke-width="4" stroke-linecap="butt"/><path d="M1472.2 1247.5H1499.8M1472.2 1274.25H1499.8"/><path d="M1540.5 1294.5V1290.8M1540.5 1316V1311.2" stroke-width="4" stroke-linecap="butt"/><path d="M1530.45 1294.5H1553.55M1530.45 1311.2H1553.55"/><path d="M1596 1342.15V1334.7M1596 1359.9V1352.25" stroke-width="4" stroke-linecap="butt"/><path d="M1584.2 1342.15H1607.8M1584.2 1352.25H1607.8"/><path d="M1650.3 1379.4V1370.9M1650.3 1396.1V1387.6" stroke-width="4" stroke-linecap="butt"/><path d="M1638.45 1379.4H1661.8M1638.45 1387.6H1661.8"/></g>
<g id="e-orange" fill="none" stroke="#DE9C00" stroke-width="4.4" stroke-linecap="round"><path d="M340 213.25V254M340 274.8V315" stroke-width="4" stroke-linecap="butt"/><path d="M326.7 213.25H352.8M326.7 315H352.8"/><path d="M394.5 237.5V277.7M394.5 298.5V339.25" stroke-width="4" stroke-linecap="butt"/><path d="M381.45 237.5H407.8M381.45 339.25H407.8"/><path d="M449.5 264.25V303.1M449.5 323.9V362.5" stroke-width="4" stroke-linecap="butt"/><path d="M438.45 264.25H461.55M438.45 362.5H461.55"/><path d="M503.25 291.75V328.7M503.25 349.5V386.5" stroke-width="4" stroke-linecap="butt"/><path d="M492.2 291.75H515.8M492.2 386.5H515.8"/><path d="M560 315V352.1M560 372.9V410.25" stroke-width="4" stroke-linecap="butt"/><path d="M546.45 315H569.55M546.45 410.25H569.55"/><path d="M614 342.5V379.35M614 400.15V434" stroke-width="4" stroke-linecap="butt"/><path d="M600.45 342.5H627.3M600.45 434H627.3"/><path d="M668 369.5V403.1M668 423.9V457.5" stroke-width="4" stroke-linecap="butt"/><path d="M654.7 369.5H681.55M654.7 457.5H681.55"/><path d="M722.5 396.75V430.1M722.5 450.9V484.5" stroke-width="4" stroke-linecap="butt"/><path d="M709.2 396.75H735.8M709.2 484.5H735.8"/><path d="M777.5 423.5V454M777.5 474.8V508.25" stroke-width="4" stroke-linecap="butt"/><path d="M763.45 423.5H789.3M763.45 508.25H789.3"/><path d="M830.5 447.25V477.5M830.5 498.3V531.75" stroke-width="4" stroke-linecap="butt"/><path d="M820.2 447.25H843.8M820.2 531.75H843.8"/><path d="M884 474.25V505M884 525.8V556" stroke-width="4" stroke-linecap="butt"/><path d="M874.45 474.25H897.8M874.45 556H897.8"/><path d="M942 501.5V528.6M942 549.4V579.5" stroke-width="4" stroke-linecap="butt"/><path d="M928.7 501.5H951.8M928.7 579.5H951.8"/><path d="M996 525.25V555.6M996 576.4V603.5" stroke-width="4" stroke-linecap="butt"/><path d="M982.7 525.25H1009.55M982.7 603.5H1009.55"/><path d="M1050 549V579.1M1050 599.9V630.5" stroke-width="4" stroke-linecap="butt"/><path d="M1037.45 549H1063.8M1037.45 630.5H1063.8"/><path d="M1104 579.5V604.85M1104 625.65V650.75" stroke-width="4" stroke-linecap="butt"/><path d="M1091.45 579.5H1117.55M1091.45 650.75H1117.55"/><path d="M1158.5 603.5V630.2M1158.5 651V677.75" stroke-width="4" stroke-linecap="butt"/><path d="M1145.2 603.5H1171.8M1145.2 677.75H1171.8"/><path d="M1213.5 630.5V654M1213.5 674.8V701.25" stroke-width="4" stroke-linecap="butt"/><path d="M1202.45 630.5H1225.8M1202.45 701.25H1225.8"/><path d="M1268 654V681M1268 701.8V728.25" stroke-width="4" stroke-linecap="butt"/><path d="M1256.2 654H1279.55M1256.2 728.25H1279.55"/><path d="M1323.75 684.5V704.7M1323.75 725.5V749" stroke-width="4" stroke-linecap="butt"/><path d="M1310.45 684.5H1333.8M1310.45 749H1333.8"/><path d="M1378 708.25V732.1M1378 752.9V772.75" stroke-width="4" stroke-linecap="butt"/><path d="M1364.2 708.25H1391.8M1364.2 772.75H1391.8"/><path d="M1432 735.5V755.7M1432 776.5V796.5" stroke-width="4" stroke-linecap="butt"/><path d="M1418.45 735.5H1445.8M1418.45 796.5H1445.8"/><path d="M1486 762.5V779.35M1486 800.15V820" stroke-width="4" stroke-linecap="butt"/><path d="M1472.2 762.5H1499.8M1472.2 820H1499.8"/><path d="M1542 786.25V806.7M1542 827.5V847.5" stroke-width="4" stroke-linecap="butt"/><path d="M1530.45 786.25H1553.55M1530.45 847.5H1553.55"/><path d="M1595.75 810V830.5M1595.75 851.3V871" stroke-width="4" stroke-linecap="butt"/><path d="M1584.2 810H1607.8M1584.2 871H1607.8"/><path d="M1650 840.5V857.35M1650 878.15V895" stroke-width="4" stroke-linecap="butt"/><path d="M1638.45 840.5H1661.8M1638.45 895H1661.8"/><path d="M1704 864.25V881.2M1704 902V918.5" stroke-width="4" stroke-linecap="butt"/><path d="M1692.45 864.25H1715.8M1692.45 918.5H1715.8"/><path d="M1760 891.25V908.35M1760 929.15V942" stroke-width="4" stroke-linecap="butt"/><path d="M1746.2 891.25H1773.8M1746.2 942H1773.8"/><path d="M1814 915V932.1M1814 952.9V969.25" stroke-width="4" stroke-linecap="butt"/><path d="M1800.2 915H1827.8M1800.2 969.25H1827.8"/><path d="M1868 942V956.1M1868 976.9V989.5" stroke-width="4" stroke-linecap="butt"/><path d="M1854.45 942H1881.8M1854.45 989.5H1881.8"/><path d="M1922 971.75V982.1M1922 1002.9V1010.75" stroke-width="4" stroke-linecap="butt"/><path d="M1912.2 971.75H1935.8M1912.2 1010.75H1935.8"/></g>
</g>
<path d="M1922.0 59.0V1385.0" stroke="#000" stroke-width="4" fill="none"/>
<g id="ticklabels">
<text transform="translate(0 85)" x="144.1 181.6 221.65" y="0" font-size="78px">100</text>
<text transform="translate(0 349.4)" x="181.35 221.65" y="0" font-size="78px">80</text>
<text transform="translate(0 613.8)" x="181.6 221.65" y="0" font-size="78px">60</text>
<text transform="translate(0 878.2)" x="180.9 221.65" y="0" font-size="78px">40</text>
<text transform="translate(0 1142.6)" x="181.4 221.65" y="0" font-size="78px">20</text>
<text transform="translate(0 1407)" x="221.65" y="0" font-size="78px">0</text>
<text transform="translate(0 1471.2)" x="265.65" y="0" font-size="78px">0</text>
<text transform="translate(0 1471.2)" x="521.05 559.65" y="0" font-size="78px">50</text>
<text transform="translate(0 1471.2)" x="776.45 813.2 850.8" y="0" font-size="78px">100</text>
<text transform="translate(0 1471.2)" x="1050.35 1085.45 1124" y="0" font-size="78px">150</text>
<text transform="translate(0 1471.2)" x="1319.4 1357.7 1394.7" y="0" font-size="78px">200</text>
<text transform="translate(0 1471.2)" x="1593.6 1629.15 1667.5" y="0" font-size="78px">250</text>
<text transform="translate(0 1471.2)" x="1865.5 1904.4 1942.5" y="0" font-size="78px">300</text>
</g>
<text transform="translate(0 1559.2) scale(0.97 1.0)" x="973.4 1019.69 1040.31 1099.79 1134.02 1155.57 1180.72 1210.93 1242.78 1276.91" y="0" font-size="77px">Time (sec)</text>
<text transform="translate(113.5 0) rotate(-90) scale(1.05 1)" x="-972.2 -917.84 -875.54 -834.14 -809.81 -775.73 -740.1 -716.19 -693.48 -658.02 -618.42 -575.7 -552.11 -514.29 -493.65 -465.29 -432.68" y="0" font-size="86px">Contact angle (°)</text>
<g id="legend">
<g fill="#fff" stroke="#747474" stroke-width="7.2" stroke-linejoin="miter"><rect x="323.6" y="1016.8" width="23" height="26.4"/><ellipse cx="333.4" cy="1030.4" rx="3.8" ry="3.6" fill="#747474" stroke="none"/></g>
<text transform="translate(0 1048)" x="400.6 431.5 461 475.9 488.5 515.7 546.6" y="0" font-size="51.6px">PSf/PES</text>
<g fill="#fff" stroke="#FF3C3C" stroke-width="7.4" stroke-linejoin="round"><circle cx="335.05" cy="1093.1" r="15.2"/><ellipse cx="333.6" cy="1093.1" rx="4.4" ry="3.8" fill="#FF3C3C" stroke="none"/></g>
<text transform="translate(0 1109.1)" x="400.6 431.5 461 475.9 488.5 515.7 546.6 574 590.8 627.8" y="0" font-size="51.6px">PSf/PES-AM</text>
<g fill="#fff" stroke="#006EE1" stroke-width="7.8" stroke-linejoin="round"><polygon points="333.55,1136.2 350.7,1165.9 316.4,1165.9"/><ellipse cx="333.6" cy="1156" rx="4.4" ry="3.8" fill="#006EE1" stroke="none"/></g>
<text transform="translate(0 1172.6)" x="400.6 431.5 461 475.9 488.5 515.7 546.6 574 590.8 627.8 672 684.8 721.9 753 766.2 789.65 802.25" y="0" font-size="51.6px">PSf/PES-AM-VT 0.5</text>
<g fill="#fff" stroke="#00B060" stroke-width="7.8" stroke-linejoin="round"><polygon points="333.55,1236.8 350.7,1207.1 316.4,1207.1"/><ellipse cx="333.6" cy="1217" rx="4.4" ry="3.8" fill="#00B060" stroke="none"/></g>
<text transform="translate(0 1233.8)" x="400.6 431.5 461 475.9 488.5 515.7 546.6 574 590.8 627.8 672 684.8 721.9 753 766.3 789.65 803.3" y="0" font-size="51.6px">PSf/PES-AM-VT 1.0</text>
<g fill="#fff" stroke="#C177E1" stroke-width="8.2" stroke-linejoin="round"><polygon points="333.55,1260.9 350.15,1279.3 333.55,1297.7 316.95,1279.3"/><ellipse cx="333.4" cy="1279.3" rx="3.9" ry="3.6" fill="#C177E1" stroke="none"/></g>
<text transform="translate(0 1296)" x="400.6 431.5 461 475.9 488.5 515.7 546.6 574 590.8 627.8 672 684.8 721.9 753 766.2 789.65 803.3" y="0" font-size="51.6px">PSf/PES-AM-VT 2.0</text>
<g fill="#fff" stroke="#DE9C00" stroke-width="7.8" stroke-linejoin="round"><polygon points="313.8,1341.9 343.5,1324.75 343.5,1359.05"/><ellipse cx="333.6" cy="1341.9" rx="4.4" ry="3.8" fill="#DE9C00" stroke="none"/></g>
<text transform="translate(0 1358.8)" x="400.6 431.5 461 475.9 488.5 515.7 546.6 574 590.8 627.8 672 684.8 721.9 753 766.2 789.65 803.3" y="0" font-size="51.6px">PSf/PES-AM-VT 3.0</text>
</g>
</svg>
</body>
</html>
